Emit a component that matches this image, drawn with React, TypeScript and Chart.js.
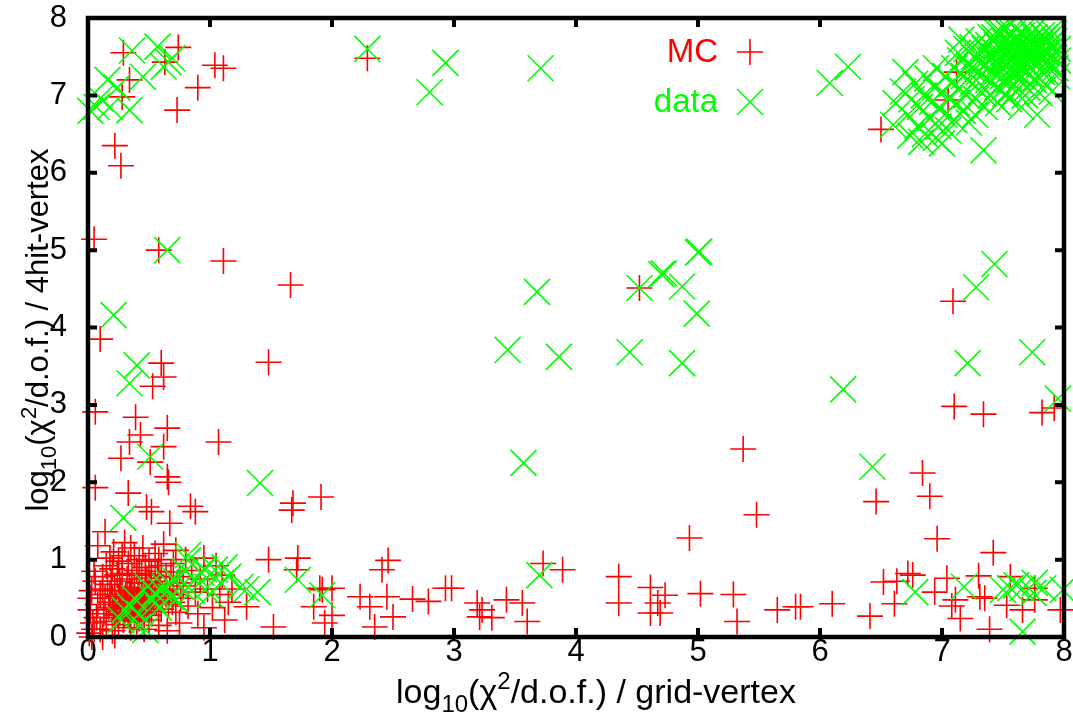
import React, { useEffect, useRef } from "react";
import { Chart, registerables } from "chart.js";

Chart.register(...registerables);

// ---------- data ----------
const axisMin = 0;
const axisMax = 8;
const tickValues = [0, 1, 2, 3, 4, 5, 6, 7, 8];

const seriesNames = ["MC", "data"];

const mcPoints: [number, number][] = [
  // upper left
  [0.29, 7.55], [0.34, 7.2], [0.28, 6.98], [0.74, 7.62], [0.63, 7.43], [0.9, 7.1], [0.73, 6.81],
  [1.04, 7.39], [1.11, 7.35], [0.22, 6.35], [0.27, 6.09], [0.05, 5.14], [0.58, 5.0], [1.11, 4.86],
  [1.66, 4.55], [0.1, 3.85], [0.6, 3.54], [0.62, 3.36], [0.53, 3.24], [1.48, 3.55], [0.06, 2.91],
  [0.39, 2.84], [0.65, 2.7], [0.43, 2.61], [0.34, 2.52], [1.07, 2.52], [0.62, 2.46], [0.27, 2.31],
  [0.51, 2.26], [0.65, 2.07], [0.66, 2.0], [0.06, 1.93], [0.33, 1.86], [1.68, 1.73], [1.67, 1.64],
  [1.91, 1.81], [0.84, 1.69], [0.88, 1.62], [0.48, 1.68], [0.52, 1.62], [0.14, 1.36], [0.67, 1.47],
  // bottom band
  [1.72, 1.02], [1.48, 1.0], [1.71, 0.87], [1.92, 0.61], [2.0, 0.28], [1.52, 0.13], [1.3, 0.39],
  [2.23, 0.52], [2.35, 0.13], [2.46, 0.99], [2.41, 0.87], [2.45, 0.52], [2.5, 0.26], [1.9, 0.63],
  [2.0, 0.63], [1.85, 0.39], [1.94, 0.18], [2.31, 0.39], [2.66, 0.49], [2.79, 0.46], [2.93, 0.63],
  [2.98, 0.63], [3.19, 0.44], [3.23, 0.35], [3.21, 0.26], [3.31, 0.25], [3.43, 0.48], [3.56, 0.44],
  [3.6, 0.2], [3.73, 0.95], [3.89, 0.87], [4.35, 0.78], [4.35, 0.44], [4.61, 0.64], [4.61, 0.31],
  [4.69, 0.31], [4.73, 0.54], [4.67, 0.44], [4.93, 1.28], [5.02, 0.56], [5.29, 0.55], [5.32, 0.2],
  [5.48, 1.58], [5.65, 0.35], [5.8, 0.39], [5.37, 2.43], [4.52, 4.51], [2.29, 7.48],
  // right side
  [7.09, 4.34], [7.1, 2.98], [7.34, 2.88], [7.82, 2.9], [7.92, 2.96], [6.84, 2.12], [6.46, 1.75],
  [6.9, 1.82], [6.5, 6.56], [7.05, 6.94], [7.12, 7.3], [6.96, 1.27], [7.42, 1.09], [5.84, 0.39],
  [6.1, 0.43], [6.41, 0.27], [6.52, 0.71], [6.63, 0.72], [6.72, 0.82], [6.76, 0.8], [6.61, 0.43],
  [6.94, 0.58], [7.04, 0.76], [7.11, 0.48], [7.08, 0.4], [7.15, 0.24], [7.3, 0.79], [7.31, 0.52],
  [7.35, 0.5], [7.39, 0.1], [7.56, 0.78], [7.53, 0.41], [7.66, 0.35], [7.76, 0.63], [7.76, 0.48],
  [7.97, 0.35],
  // dense cluster near the origin
  [0.08, 1.18], [0.21, 1.1], [0.3, 1.22], [0.38, 1.05], [0.45, 1.15], [0.55, 1.08], [0.62, 1.2],
  [0.72, 1.12], [0.8, 1.0], [0.95, 1.02], [1.05, 0.92], [0.25, 0.98], [0.15, 0.92],
  [0.05, 0.85], [0.12, 0.78], [0.2, 0.88], [0.28, 0.82], [0.33, 0.95], [0.4, 0.86], [0.47, 0.9],
  [0.52, 0.8], [0.6, 0.92], [0.68, 0.84], [0.75, 0.78], [0.85, 0.86], [0.92, 0.75], [1.1, 0.8],
  [1.18, 0.62], [0.03, 0.6], [0.1, 0.55], [0.16, 0.68], [0.22, 0.6], [0.26, 0.72], [0.3, 0.5],
  [0.34, 0.64], [0.38, 0.55], [0.42, 0.7], [0.46, 0.52], [0.5, 0.62], [0.55, 0.72], [0.58, 0.5],
  [0.63, 0.6], [0.7, 0.55], [0.78, 0.66], [0.88, 0.58], [0.98, 0.62], [1.08, 0.55], [1.15, 0.45],
  [0.02, 0.35], [0.08, 0.42], [0.13, 0.3], [0.18, 0.45], [0.21, 0.36], [0.24, 0.28], [0.27, 0.45],
  [0.31, 0.38], [0.33, 0.3], [0.36, 0.46], [0.39, 0.35], [0.42, 0.42], [0.44, 0.3], [0.48, 0.4],
  [0.52, 0.33], [0.56, 0.44], [0.6, 0.36], [0.66, 0.42], [0.72, 0.32], [0.82, 0.4], [0.9, 0.3],
  [1.02, 0.38], [1.12, 0.22], [0.01, 0.05], [0.04, 0.18], [0.1, 0.1], [0.15, 0.2], [0.2, 0.08],
  [0.25, 0.16], [0.29, 0.22], [0.35, 0.12], [0.4, 0.2], [0.46, 0.1], [0.5, 0.22], [0.58, 0.15],
  [0.65, 0.08], [0.75, 0.18], [0.95, 0.12], [0.03, 0.0],
  [0.18, 0.55], [0.2, 0.5], [0.23, 0.42], [0.25, 0.52], [0.27, 0.6], [0.29, 0.4], [0.31, 0.55],
  [0.32, 0.45], [0.34, 0.5], [0.35, 0.58], [0.36, 0.35], [0.37, 0.42], [0.38, 0.62], [0.4, 0.48],
  [0.41, 0.55], [0.43, 0.38], [0.44, 0.6], [0.45, 0.45], [0.47, 0.58], [0.49, 0.5], [0.5, 0.42],
  [0.51, 0.7], [0.53, 0.55], [0.54, 0.47], [0.57, 0.6], [0.59, 0.68], [0.61, 0.5], [0.64, 0.55],
  [0.67, 0.62], [0.69, 0.45], [0.73, 0.7], [0.76, 0.5], [0.3, 0.28], [0.34, 0.22], [0.38, 0.28],
  [0.42, 0.24], [0.46, 0.32], [0.5, 0.28], [0.26, 0.33], [0.22, 0.25], [0.17, 0.38], [0.14, 0.5],
  [0.12, 0.62], [0.19, 0.72], [0.24, 0.8], [0.32, 0.75], [0.36, 0.8], [0.44, 0.82], [0.48, 0.76],
  [0.57, 0.85], [0.64, 0.78], [0.7, 0.95], [0.42, 1.0], [0.5, 0.98], [0.28, 1.05], [0.58, 1.0],
  [0.35, 1.15], [0.18, 1.02], [0.06, 0.72], [0.07, 0.25], [0.02, 0.5], [0.12, 0.0], [0.22, 0.02],
  [0.05, 0.1],
];

const dataPoints: [number, number][] = [
  // upper left
  [0.07, 6.85], [0.1, 6.96], [0.18, 6.85], [0.24, 7.1], [0.34, 6.81], [0.36, 7.58], [0.45, 7.24],
  [0.57, 7.63], [0.62, 7.37], [0.66, 7.43], [0.69, 7.48], [0.16, 7.2], [0.02, 6.8],
  [0.65, 5.0], [0.21, 4.16], [0.4, 3.51], [0.34, 3.28], [0.51, 2.33], [1.41, 1.99], [0.29, 1.54],
  [0.82, 1.06], [1.72, 0.74], [1.92, 0.54], [3.7, 0.8],
  // cluster near the origin
  [0.3, 0.35], [0.41, 0.13], [0.47, 0.09], [0.27, 0.22], [0.55, 0.57], [0.63, 0.65], [0.71, 0.74],
  [0.82, 0.99], [0.93, 0.83], [1.04, 0.87], [1.15, 0.78], [1.25, 0.65], [0.55, 0.44], [0.49, 0.65],
  [0.68, 0.52], [0.76, 0.65], [0.88, 0.74], [0.98, 0.65], [1.09, 0.7], [0.35, 0.39], [1.39, 0.58],
  [1.3, 0.62], [0.6, 0.6], [0.72, 0.48], [0.85, 0.6], [0.95, 0.88], [1.0, 0.55], [0.42, 0.3],
  [0.52, 0.5], [0.66, 0.7], [0.8, 0.85], [1.12, 0.9], [0.58, 0.38], [0.38, 0.5],
  // middle
  [2.29, 7.6], [2.93, 7.42], [2.8, 7.04], [3.71, 7.35], [3.68, 4.46], [4.52, 4.51], [4.7, 4.69],
  [4.72, 4.7], [4.87, 4.53], [5.0, 4.97], [5.01, 4.98], [4.99, 4.18], [6.08, 7.16], [6.23, 7.37],
  [3.44, 3.71], [3.86, 3.62], [4.44, 3.68], [4.87, 3.54], [3.57, 2.25], [7.43, 4.82], [7.28, 4.52],
  [7.21, 3.54], [7.74, 3.68], [6.19, 3.2], [7.95, 3.08], [6.43, 2.2], [7.34, 6.29],
  // lower right
  [6.78, 0.58], [7.18, 0.65], [7.56, 0.63], [7.61, 0.67], [7.66, 0.63], [7.75, 0.57], [7.76, 0.7],
  [7.83, 0.63], [7.99, 0.61], [7.66, 0.07], [7.5, 0.61],
  // upper right: tail
  [6.62, 6.9], [6.68, 7.05], [6.72, 6.75], [6.75, 6.95], [6.78, 7.15], [6.8, 6.6], [6.82, 6.85],
  [6.85, 7.0], [6.86, 6.5], [6.88, 7.22], [6.9, 6.7], [6.92, 6.92], [6.94, 7.1], [6.95, 6.45],
  [6.97, 6.6], [6.98, 6.85], [7.0, 7.05], [7.02, 6.75], [7.03, 7.25], [7.05, 6.55], [7.06, 6.95],
  [7.08, 7.15], [7.1, 6.68], [7.1, 7.35], [6.74, 6.48], [6.83, 6.4], [6.7, 7.3], [6.6, 6.62],
  [6.95, 7.35], [7.0, 6.38],
  // upper right: middle
  [7.12, 6.9], [7.14, 7.1], [7.15, 7.45], [7.17, 6.8], [7.18, 7.25], [7.2, 7.6], [7.2, 7.0],
  [7.22, 6.65], [7.24, 7.35], [7.25, 7.15], [7.26, 7.5], [7.28, 6.95], [7.3, 7.7], [7.3, 7.3],
  [7.32, 7.05], [7.33, 7.55], [7.35, 6.85], [7.36, 7.4], [7.38, 7.2], [7.38, 7.65], [7.4, 7.0],
  [7.4, 7.48], [7.13, 7.55], [7.27, 6.75], [7.16, 7.72],
  // upper right: core
  [7.42, 7.3], [7.43, 7.75], [7.44, 7.55], [7.45, 7.1], [7.46, 7.4], [7.47, 7.62], [7.48, 7.82],
  [7.5, 7.25], [7.5, 7.5], [7.51, 7.7], [7.52, 7.38], [7.53, 7.58], [7.54, 7.15], [7.55, 7.8],
  [7.56, 7.45], [7.57, 7.65], [7.58, 7.3], [7.59, 7.52], [7.6, 7.72], [7.61, 7.4], [7.62, 7.6],
  [7.63, 7.2], [7.64, 7.8], [7.65, 7.5], [7.66, 7.35], [7.67, 7.68], [7.68, 7.55], [7.69, 7.42],
  [7.7, 7.75], [7.71, 7.6], [7.72, 7.28], [7.73, 7.5], [7.74, 7.82], [7.75, 7.65], [7.76, 7.4],
  [7.77, 7.55], [7.78, 7.72], [7.8, 7.48], [7.81, 7.6], [7.82, 7.3], [7.84, 7.75], [7.85, 7.55],
  [7.86, 7.42], [7.88, 7.65], [7.9, 7.5], [7.92, 7.7], [7.93, 7.35], [7.95, 7.6], [7.6, 7.05],
  [7.7, 7.1], [7.8, 7.03], [7.55, 6.95], [7.65, 6.85], [7.85, 7.15], [7.45, 7.82], [7.58, 7.8],
  [7.88, 7.8], [7.78, 6.75], [7.9, 7.05], [7.46, 6.9], [7.52, 7.02], [7.68, 7.0],
  [7.35, 7.6], [7.4, 7.75], [7.45, 7.65], [7.48, 7.45], [7.52, 7.85], [7.55, 7.6], [7.58, 7.72],
  [7.6, 7.5], [7.62, 7.68], [7.64, 7.4], [7.66, 7.78], [7.68, 7.62], [7.7, 7.5], [7.72, 7.7],
  [7.74, 7.58], [7.76, 7.75], [7.78, 7.45], [7.8, 7.65], [7.82, 7.78], [7.84, 7.5], [7.86, 7.7],
  [7.88, 7.4], [7.9, 7.6], [7.92, 7.8], [7.7, 7.38], [7.6, 7.3], [7.5, 7.35], [7.42, 7.5],
  [7.38, 7.35], [7.32, 7.42], [7.28, 7.2], [7.25, 7.62], [7.22, 7.4], [7.45, 7.25], [7.55, 7.2],
  [7.65, 7.25], [7.75, 7.2], [7.85, 7.3], [7.95, 7.45], [7.94, 7.25],
];

// ---------- style ----------
const RED = "#ff0000";
const GREEN = "#00ff00";
const FONT = "'Liberation Sans', Arial, Helvetica, sans-serif";
const MARK_LW = 1.6;
const PLUS_R = 13;
const X_R = 18.4;

type Part = { t: string; k: "n" | "sub" | "sup" };
const xTitleParts: Part[] = [
  { t: "log", k: "n" }, { t: "10", k: "sub" }, { t: "(χ", k: "n" }, { t: "2", k: "sup" },
  { t: "/d.o.f.) / grid-vertex", k: "n" },
];
const yTitleParts: Part[] = [
  { t: "log", k: "n" }, { t: "10", k: "sub" }, { t: "(χ", k: "n" }, { t: "2", k: "sup" },
  { t: "/d.o.f.) / 4hit-vertex", k: "n" },
];

function drawRich(ctx: CanvasRenderingContext2D, parts: Part[], cx: number, baseY: number, size: number) {
  const small = Math.round(size * 0.7);
  const fontFor = (k: string) => `${k === "n" ? size : small}px ${FONT}`;
  let total = 0;
  for (const p of parts) {
    ctx.font = fontFor(p.k);
    total += ctx.measureText(p.t).width;
  }
  let x = cx - total / 2;
  ctx.textAlign = "left";
  ctx.textBaseline = "alphabetic";
  for (const p of parts) {
    ctx.font = fontFor(p.k);
    const dy = p.k === "sub" ? size * 0.25 : p.k === "sup" ? -size * 0.4 : 0;
    ctx.fillText(p.t, x, baseY + dy);
    x += ctx.measureText(p.t).width;
  }
}

const decorPlugin = {
  id: "gnuplotDecor",
  afterDatasetsDraw(chart: any) {
    const ctx: CanvasRenderingContext2D = chart.ctx;
    const { left, right, top, bottom } = chart.chartArea;
    const xs = chart.scales.x;
    const ys = chart.scales.y;
    ctx.save();
    // frame
    ctx.strokeStyle = "#000";
    ctx.lineWidth = 4.5;
    ctx.strokeRect(left, top, right - left, bottom - top);
    // inward ticks on all four sides
    ctx.lineWidth = 4;
    const tl = 9;
    ctx.beginPath();
    for (const v of tickValues) {
      if (v === axisMin || v === axisMax) continue;
      const px = xs.getPixelForValue(v);
      ctx.moveTo(px, bottom); ctx.lineTo(px, bottom - tl);
      ctx.moveTo(px, top); ctx.lineTo(px, top + tl);
      const py = ys.getPixelForValue(v);
      ctx.moveTo(left, py); ctx.lineTo(left + tl, py);
      ctx.moveTo(right, py); ctx.lineTo(right - tl, py);
    }
    ctx.stroke();

    // legend (gnuplot style: text right-aligned, sample to its right)
    const legX = 718;
    const sampleX = 750;
    const rows = [
      { name: seriesNames[0], color: RED, y: 52, style: "plus" },
      { name: seriesNames[1], color: GREEN, y: 102, style: "x" },
    ];
    ctx.font = `33px ${FONT}`;
    ctx.textAlign = "right";
    ctx.textBaseline = "middle";
    for (const r of rows) {
      ctx.fillStyle = r.color;
      ctx.fillText(r.name, legX, r.y + 1);
      ctx.strokeStyle = r.color;
      ctx.lineWidth = MARK_LW;
      ctx.beginPath();
      if (r.style === "plus") {
        ctx.moveTo(sampleX - PLUS_R, r.y); ctx.lineTo(sampleX + PLUS_R, r.y);
        ctx.moveTo(sampleX, r.y - PLUS_R); ctx.lineTo(sampleX, r.y + PLUS_R);
      } else {
        const d = 13;
        ctx.moveTo(sampleX - d, r.y - d); ctx.lineTo(sampleX + d, r.y + d);
        ctx.moveTo(sampleX - d, r.y + d); ctx.lineTo(sampleX + d, r.y - d);
      }
      ctx.stroke();
    }

    // axis titles
    ctx.fillStyle = "#000";
    drawRich(ctx, xTitleParts, 596, 703, 34);
    ctx.save();
    ctx.translate(48, 330);
    ctx.rotate(-Math.PI / 2);
    drawRich(ctx, yTitleParts, 0, 0, 31);
    ctx.restore();
    ctx.restore();
  },
};

const zeroPadding = (s: any) => {
  s.paddingTop = 0;
  s.paddingBottom = 0;
  s.paddingLeft = 0;
  s.paddingRight = 0;
};

export default function App() {
  const ref = useRef<HTMLCanvasElement | null>(null);
  useEffect(() => {
    if (!ref.current) return;
    const chart = new Chart(ref.current, {
      type: "scatter",
      data: {
        datasets: [
          {
            label: seriesNames[0],
            data: mcPoints.map(([x, y]) => ({ x, y })),
            pointStyle: "cross",
            pointRadius: PLUS_R,
            pointHoverRadius: PLUS_R,
            borderColor: RED,
            backgroundColor: RED,
            pointBorderWidth: MARK_LW,
            borderWidth: MARK_LW,
            order: 1,
            clip: false,
          },
          {
            label: seriesNames[1],
            data: dataPoints.map(([x, y]) => ({ x, y })),
            pointStyle: "crossRot",
            pointRadius: X_R,
            pointHoverRadius: X_R,
            borderColor: GREEN,
            backgroundColor: GREEN,
            pointBorderWidth: MARK_LW,
            borderWidth: MARK_LW,
            order: 0,
            clip: false,
          },
        ] as any,
      },
      options: {
        animation: false,
        responsive: false,
        devicePixelRatio: 1,
        events: [],
        layout: { autoPadding: false, padding: { left: 0, top: 18, right: 9, bottom: 0 } },
        plugins: { legend: { display: false }, tooltip: { enabled: false }, title: { display: false } },
        scales: {
          x: {
            type: "linear",
            min: axisMin,
            max: axisMax,
            afterFit: (s: any) => { s.height = 75; zeroPadding(s); },
            afterBuildTicks: (s: any) => { s.ticks = tickValues.map((v) => ({ value: v })); },
            grid: { display: false },
            border: { display: false },
            ticks: { color: "#000", font: { family: FONT, size: 31 }, padding: -11, maxRotation: 0 },
          },
          y: {
            type: "linear",
            min: axisMin,
            max: axisMax,
            afterFit: (s: any) => { s.width = 88; zeroPadding(s); },
            afterBuildTicks: (s: any) => { s.ticks = tickValues.map((v) => ({ value: v })); },
            grid: { display: false },
            border: { display: false },
            ticks: { color: "#000", font: { family: FONT, size: 31 }, padding: 13 },
          },
        },
      },
      plugins: [decorPlugin],
    });
    return () => chart.destroy();
  }, []);
  return (
    <div style={{ position: "fixed", left: 0, top: 0, width: 1073, height: 712, background: "#fff" }}>
      <canvas ref={ref} width={1073} height={712} style={{ display: "block" }} />
    </div>
  );
}
